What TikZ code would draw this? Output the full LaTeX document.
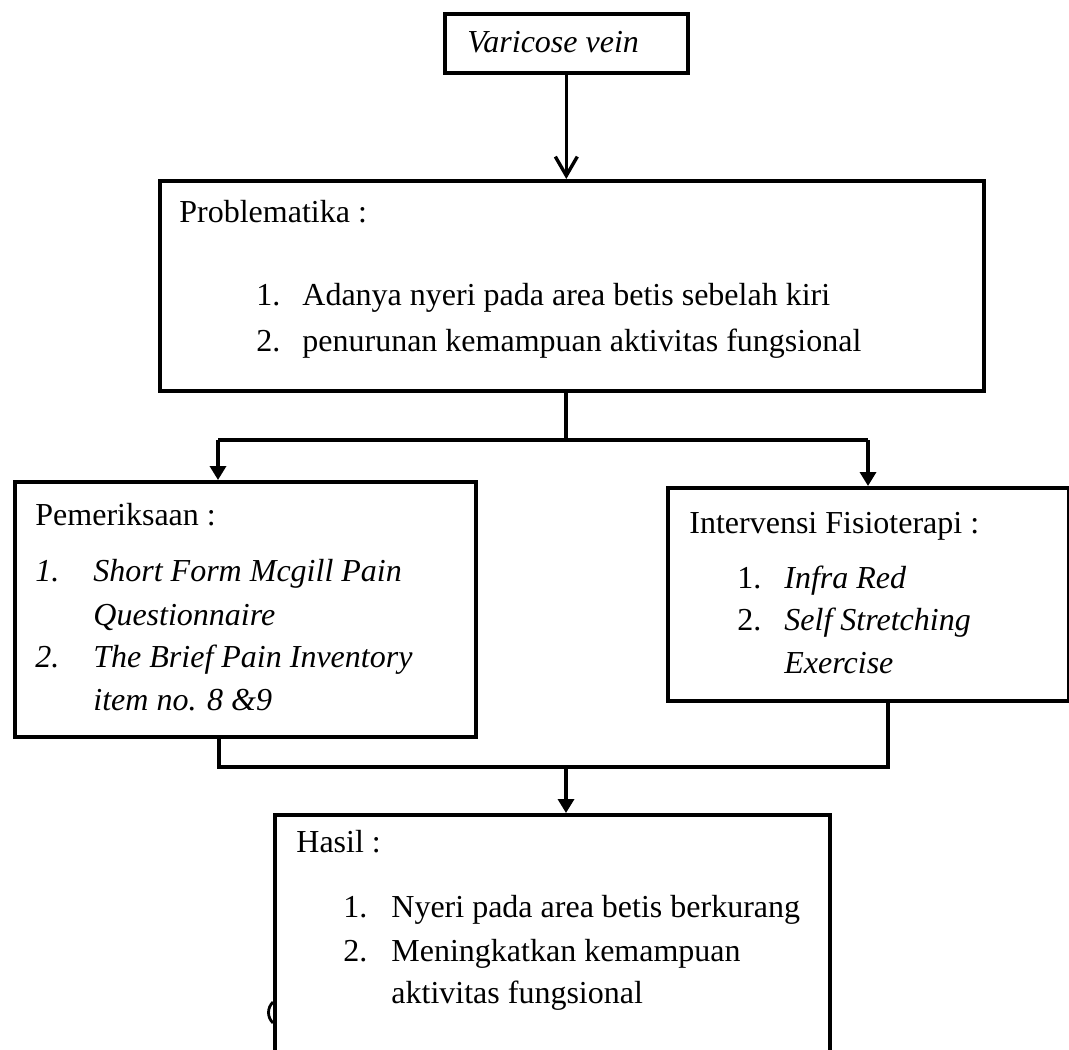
\documentclass[tikz,border=0pt]{standalone}
\usepackage{fontspec}
\setmainfont{Liberation Serif}
\usetikzlibrary{arrows.meta}
\begin{document}
\begin{tikzpicture}[x=0.5pt,y=-0.5pt,
  box/.style={draw, line width=1.8pt, rectangle, inner sep=0pt, anchor=north west},
  txt/.style={anchor=base west, inner sep=0pt, font=\fontsize{16}{19}\selectfont},
  ittxt/.style={anchor=base west, inner sep=0pt, font=\fontsize{16}{19}\selectfont\itshape},
  conn/.style={line width=1.7pt},
  openarrow/.style={conn, -{Straight Barb[length=9.5pt,width=11pt]}},
  fillarrow/.style={conn, -{Triangle[length=7pt,width=8pt]}}]
\useasboundingbox (0,0) rectangle (1069,1049);
\clip (0,0) rectangle (1069,1049);

% boxes
\node[box, minimum width=121.5pt, minimum height=29.5pt] (vv) at (443,12) {};
\node[box, minimum width=412pt, minimum height=105pt] (prob) at (158,179) {};
\node[box, minimum width=230.5pt, minimum height=127.5pt] (pem) at (13,480) {};
\node[box, minimum width=200.5pt, minimum height=106.5pt] (inter) at (666,486) {};
\node[box, minimum width=277.5pt, minimum height=128.5pt] (hasil) at (273,813) {};

% texts
\node[ittxt] (t0) at (467,52) {Varicose vein};

\node[txt] (p0) at (179,222) {Problematika :};
\node[txt] (p1n) at (256,305) {1.};
\node[txt] (p1) at (302,305) {Adanya nyeri pada area betis sebelah kiri};
\node[txt] (p2n) at (256,351) {2.};
\node[txt] (p2) at (302,351) {penurunan kemampuan aktivitas fungsional};

\node[txt] (e0) at (35,525) {Pemeriksaan :};
\node[ittxt] (e1n) at (35,581) {1.};
\node[ittxt] (e1) at (93,581) {Short Form Mcgill Pain};
\node[ittxt] (e1b) at (93,625) {Questionnaire};
\node[ittxt] (e2n) at (35,667) {2.};
\node[ittxt] (e2) at (93,667) {The Brief Pain Inventory};
\node[ittxt] (e2b) at (93,710) {item no. 8 \&9};

\node[txt] (i0) at (689,533) {Intervensi Fisioterapi :};
\node[txt] (i1n) at (737,588) {1.};
\node[ittxt] (i1) at (784,588) {Infra Red};
\node[txt] (i2n) at (737,630) {2.};
\node[ittxt] (i2) at (784,630) {Self Stretching};
\node[ittxt] (i2b) at (784,673) {Exercise};

\node[txt] (h0) at (296,852) {Hasil :};
\node[txt] (h1n) at (343,917) {1.};
\node[txt] (h1) at (391,917) {Nyeri pada area betis berkurang};
\node[txt] (h2n) at (343,961) {2.};
\node[txt] (h2) at (391,961) {Meningkatkan kemampuan};
\node[txt] (h2b) at (391,1003) {aktivitas fungsional};

% small stray mark on the left edge of the Hasil box
\draw[line width=1.4pt] (273,1002) .. controls (267,1008) and (267,1017) .. (273,1023);

% connectors
\draw[openarrow] (vv.south) -- (vv.south |- prob.north);

\coordinate (split) at (566,440);
\coordinate (jl) at (218,440);
\coordinate (jr) at (868,440);
\draw[conn] (split |- prob.south) -- (split);
\draw[conn] (jl) -- (jr);
\draw[fillarrow] (jl) -- (jl |- pem.north);
\draw[fillarrow] (jr) -- (jr |- inter.north);

\coordinate (bl) at (219,767);
\coordinate (br) at (888,767);
\coordinate (bm) at (566,767);
\draw[conn] (bl |- pem.south) -- (bl) -- (br) -- (br |- inter.south);
\draw[fillarrow] (bm) -- (bm |- hasil.north);
\end{tikzpicture}
\end{document}
